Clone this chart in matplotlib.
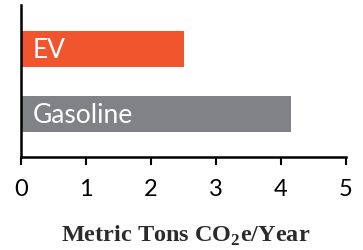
import matplotlib
matplotlib.use("Agg")
import matplotlib.pyplot as plt

categories = ["Gasoline", "EV"]
values = [4.15, 2.5]
colors = ["#818285", "#F0552E"]
xticks = [0, 1, 2, 3, 4, 5]

plt.rcParams["mathtext.fontset"] = "custom"
plt.rcParams["mathtext.rm"] = "Liberation Serif:bold"
plt.rcParams["mathtext.bf"] = "Liberation Serif:bold"

fig = plt.figure(figsize=(3.63, 2.51), dpi=100)
ax = fig.add_axes([21/363, 93/251, 325/363, 152/251])

pos = list(range(len(categories)))
ax.barh(pos, values, height=0.554, color=colors)
for p, name in zip(pos, categories):
    ax.text(0.18, p, name, color="white", fontsize=19, fontfamily="Lato",
            va="center", ha="left")

ax.set_xlim(0, 5)
ax.set_ylim(-0.66, 1.677)
ax.set_xticks(xticks)
ax.set_xticklabels([str(t) for t in xticks], fontsize=17, fontfamily="Lato")
ax.tick_params(axis="x", length=6, width=1.5, pad=9, colors="black")
ax.set_yticks([])
for s in ["top", "right"]:
    ax.spines[s].set_visible(False)
ax.spines["left"].set_linewidth(1.8)
ax.spines["bottom"].set_linewidth(1.8)

fig.text(186/363, 15/251, r"Metric Tons CO$_\mathbf{2}$e/Year", ha="center", va="center",
         fontsize=17.5, fontfamily="Liberation Serif", fontweight="bold", color="#2b2b2b")

fig.savefig("out.png", dpi=100)
